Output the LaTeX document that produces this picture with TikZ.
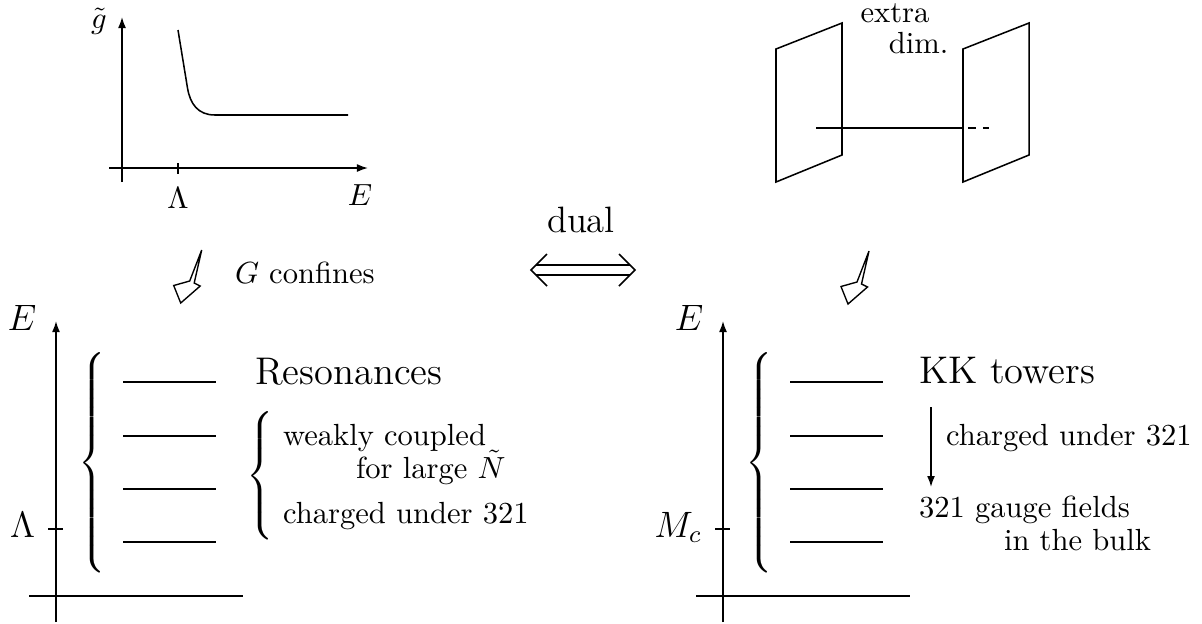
\documentclass[tikz,border=0pt]{standalone}
\usetikzlibrary{arrows.meta}
\begin{document}
\begin{tikzpicture}[x=0.327pt,y=-0.327pt,line width=0.5pt,
  axis/.style={-{Latex[length=3.6pt,width=2.6pt]}},
  lab/.style={inner sep=0pt,outer sep=0pt},
  hollow/.style={line width=0.45pt,line join=miter},
  bigbrace/.style={inner sep=0pt,anchor=west},
  title/.style={lab,anchor=base west,font=\fontsize{12.6}{15}\selectfont}]
\useasboundingbox (0,0) rectangle (1202,623);

% ---------- top-left graph ----------
\coordinate (gx0) at (109,168); \coordinate (gx1) at (368,168);
\coordinate (gy0) at (122,182); \coordinate (gy1) at (122,17);
\draw[axis] (gx0) -- (gx1);
\draw[axis] (gy0) -- (gy1);
\coordinate (tk0) at (178,163); \coordinate (tk1) at (178,174);
\draw (tk0) -- (tk1);
\node[lab,anchor=base] (gt) at (99,28) {$\tilde g$};
\node[lab,anchor=base] (lam1) at (178,208) {$\Lambda$};
\node[lab,anchor=base] (e1) at (360,205) {$E$};
\draw (178,30) -- (187.5,88) .. controls (190.2,104) and (198,115) .. (215,115) -- (348,115);

% ---------- top-right branes ----------
\draw (776,49) -- (842,23) -- (842,155) -- (776,182) -- cycle;
\draw (963,49) -- (1029,23) -- (1029,155) -- (963,182) -- cycle;
\coordinate (ln0) at (816,128); \coordinate (ln1) at (963,128);
\coordinate (ln2) at (968,128); \coordinate (ln3) at (989,128);
\draw (ln0) -- (ln1);
\draw[dash pattern=on 2.6pt off 2.3pt] (ln2) -- (ln3);
\node[lab,anchor=base] (extra) at (895,22) {extra};
\node[lab,anchor=base] (dim) at (918.5,53) {dim.};

% ---------- hollow arrows ----------
\foreach \hx/\hy in {201.7/250, 869/251}{
  \draw[hollow,shift={(\hx,\hy)}] (0,0) -- (-12,31) -- (-28,35.5) -- (-21,53)
     -- (-1.5,36) -- (-7.5,33) -- cycle;
}
\node[lab,anchor=base west] (conf) at (235,283) {$G$ confines};

% ---------- dual ----------
\node[lab,anchor=base] (dual) at (581,232) {\large dual};
\coordinate (dL) at (531,270); \coordinate (dR) at (635,270);
\draw (536,265) -- (630,265);
\draw (536,275) -- (630,275);
\draw (547,254) -- (dL) -- (547,286);
\draw (619,254) -- (dR) -- (619,286);

% ---------- bottom axes (both) ----------
\foreach \sx in {0,667}{
\begin{scope}[xshift=\sx*0.327pt]
  \draw[axis] (56,622) -- (56,321);
  \draw (29,596) -- (243,596);
  \draw (48,529) -- (63,529);
  \node[bigbrace] at (78,463) {$\left\{\vcenter{\hbox{\rule{0pt}{77pt}}}\right.$};
  \foreach \ly in {382,436,489,542}{
    \draw (123,\ly) -- (216,\ly);
  }
\end{scope}
}

% ---------- left texts ----------
\node[lab,anchor=base] (eL) at (22,330) {\large $E$};
\node[lab,anchor=base east] (lamL) at (35,537) {\large $\Lambda$};
\node[title] (res) at (255,384) {Resonances};
\node[bigbrace] (sb) at (246,476) {$\left\{\vcenter{\hbox{\rule{0pt}{40pt}}}\right.$};
\node[lab,anchor=base west] (t1) at (283,445) {weakly coupled};
\node[lab,anchor=base west] (t2) at (356,478) {for large $\tilde N$};
\node[lab,anchor=base west] (t3) at (283,523) {charged under 321};

% ---------- right texts ----------
\node[lab,anchor=base] (eR) at (689,330) {\large $E$};
\node[lab,anchor=base east] (mc) at (702,537) {\large $M_c$};
\node[title] (kk) at (919,383) {KK towers};
\coordinate (a1) at (931,407); \coordinate (a2) at (931,487);
\draw[axis] (a1) -- (a2);
\node[lab,anchor=base west] (r1) at (946,445) {charged under 321};
\node[lab,anchor=base west] (r2) at (919,517) {321 gauge fields};
\node[lab,anchor=base west] (r3) at (1004,550) {in the bulk};
\end{tikzpicture}
\end{document}
